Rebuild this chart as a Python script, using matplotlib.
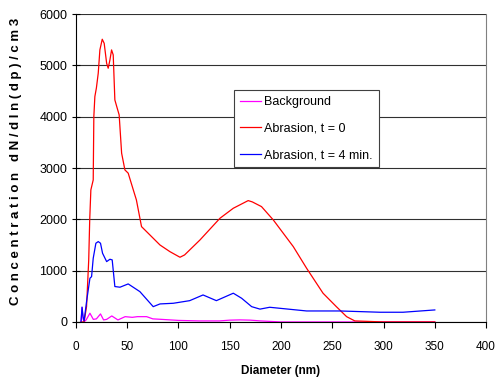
import matplotlib
matplotlib.use("Agg")
import matplotlib.pyplot as plt

plt.rcParams['font.family'] = ['Liberation Sans', 'DejaVu Sans']

# particle size distributions
bg_x = [5, 6, 7, 8, 10, 13.7, 17, 20, 24, 27, 30, 35, 41, 48, 55, 60, 69, 75, 82, 100, 120, 140, 150, 160, 170, 180, 200, 350]
bg_y = [0, 280, 60, 0, 40, 170, 50, 60, 156, 40, 50, 117, 39, 103, 90, 103, 103, 60, 52, 30, 20, 20, 35, 40, 35, 20, 0, 0]

t0_x = [5, 8, 10.4, 12.5, 13.5, 14.6, 16.9, 17.5, 18.5, 20, 21.8, 23.4, 25.7, 27.6, 30, 31.5, 33.2, 34.8, 36.4,
        38, 40.3, 42.2, 44.6, 47.8, 51, 56, 59, 64, 70.5, 82, 91.7, 101.5, 106, 121, 140.5, 153.5, 168, 172,
        181, 192.5, 212, 225, 241, 254, 264, 272, 300, 350]
t0_y = [0, 0, 300, 1200, 2000, 2573, 2768, 4002, 4392, 4561, 4850, 5302, 5510, 5430, 5040, 4945, 5107, 5302, 5205,
        4327, 4166, 4035, 3289, 2963, 2900, 2573, 2378, 1858, 1729, 1500, 1370, 1261, 1306, 1598, 2021, 2216, 2365, 2340,
        2248, 1988, 1468, 1046, 560, 298, 103, 20, 0, 0]

t4_x = [5, 6, 7, 8, 10.4, 13.7, 15.3, 16.9, 19.5, 21.8, 24, 26, 30, 33.2, 35.4, 38, 43, 51, 62.4, 75.4, 82, 95,
        111, 124, 137, 153.5, 161.6, 171.4, 179.5, 189, 225, 257.6, 296.6, 319, 350]
t4_y = [0, 290, 100, 20, 396, 852, 883, 1241, 1534, 1566, 1534, 1339, 1176, 1222, 1209, 690, 677, 741, 591, 298, 351, 364,
        415, 526, 415, 560, 462, 298, 250, 286, 214, 214, 189, 189, 234]

fig = plt.figure(figsize=(4.96, 3.81), dpi=100)
ax = fig.add_axes([0.153, 0.155, 0.827, 0.808])

ax.plot(bg_x, bg_y, color='#FF00FF', lw=0.9, label='Background')
ax.plot(t0_x, t0_y, color='#FF0000', lw=0.9, label='Abrasion, t = 0')
ax.plot(t4_x, t4_y, color='#0000FF', lw=0.9, label='Abrasion, t = 4 min.')

ax.set_xlim(0, 400)
ax.set_ylim(0, 6000)
ax.set_xticks(range(0, 401, 50))
ax.set_yticks(range(0, 6001, 1000))
ax.yaxis.grid(True, color='#303030', lw=0.8)
ax.set_axisbelow(True)

ax.spines['top'].set_visible(False)
ax.spines['right'].set_color('#808080')
ax.tick_params(axis='both', labelsize=9, length=4, width=0.8)
ax.tick_params(axis='x', pad=10, labelsize=8.5)
ax.tick_params(axis='y', direction='inout', length=6, pad=3)

ax.set_xlabel('Diameter (nm)', fontsize=8.5, fontweight='bold', labelpad=8)
fig.text(0.033, 0.577, 'C o n c e n t r a t i o n   d N / d l n ( d p ) / c m 3', rotation=90,
         fontsize=9.5, fontweight='bold', ha='center', va='center')

leg = ax.legend(loc='upper left', bbox_to_anchor=(0.385, 0.753), fontsize=9, fancybox=False,
                framealpha=1, edgecolor='#404040', handlelength=1.7, borderpad=0.5, labelspacing=1.15,
                handletextpad=0.25, borderaxespad=0)
leg.get_frame().set_linewidth(0.8)

plt.savefig('out.png', dpi=100)
